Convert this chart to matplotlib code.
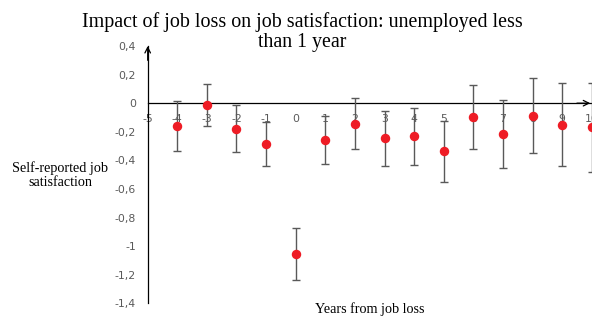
import matplotlib
matplotlib.use("Agg")
import matplotlib.pyplot as plt
import numpy as np

# values
years = [-4, -3, -2, -1, 0, 1, 2, 3, 4, 5, 6, 7, 8, 9, 10]
means = [-0.157, -0.014, -0.18, -0.287, -1.056, -0.257, -0.143, -0.247,
         -0.233, -0.338, -0.098, -0.215, -0.087, -0.152, -0.17]
errs = [0.175, 0.145, 0.165, 0.155, 0.18, 0.165, 0.18, 0.19,
        0.2, 0.21, 0.225, 0.24, 0.265, 0.29, 0.31]
xticks = list(range(-5, 11))
yticks = [0.4, 0.2, 0, -0.2, -0.4, -0.6, -0.8, -1, -1.2, -1.4]
ytick_labels = ["0,4", "0,2", "0", "-0,2", "-0,4", "-0,6", "-0,8", "-1", "-1,2", "-1,4"]

W, H = 592, 320
fig = plt.figure(figsize=(W / 100, H / 100), dpi=100)
ax = fig.add_axes([147.7 / W, 1 - 303.3 / H, 444 / W, 257.3 / H])
ax.patch.set_alpha(0)

ax.errorbar(years, means, yerr=errs, fmt="o", color="#ee1c25", ms=5.8,
            mec="#ee1c25", ecolor="#595959", elinewidth=1.0, capsize=3.2,
            capthick=1.0, zorder=3)

ax.set_xlim(-5, 10)
ax.set_ylim(-1.4, 0.4)
for s in ("top", "right"):
    ax.spines[s].set_visible(False)
ax.spines["bottom"].set_position(("data", 0))
ax.spines["left"].set_position(("data", -5))
for s in ("left", "bottom"):
    ax.spines[s].set_linewidth(0.9)
    ax.spines[s].set_color("black")

ax.set_xticks(xticks)
ax.set_xticklabels([str(t) for t in xticks])
ax.set_yticks(yticks)
ax.set_yticklabels(ytick_labels)
ax.tick_params(axis="both", length=0, labelsize=7.8, labelcolor="#595959")
ax.tick_params(axis="x", pad=7.5)
ax.tick_params(axis="y", pad=8.5)
for lab in ax.get_xticklabels() + ax.get_yticklabels():
    lab.set_fontfamily("DejaVu Sans")

# arrow heads on the axes
ax.annotate("", xy=(-5, 0.4), xytext=(-5, 0.3),
            arrowprops=dict(arrowstyle="->", color="black", lw=0.9,
                            shrinkA=0, shrinkB=0), annotation_clip=False)
ax.annotate("", xy=(9.95, 0), xytext=(9.5, 0),
            arrowprops=dict(arrowstyle="->", color="black", lw=0.9,
                            shrinkA=0, shrinkB=0), annotation_clip=False)

serif = "Liberation Serif"
fig.text(302 / W, 1 - 22 / H, "Impact of job loss on job satisfaction: unemployed less",
         ha="center", va="center", fontsize=14.4, family=serif)
fig.text(302 / W, 1 - 43 / H, "than 1 year",
         ha="center", va="center", fontsize=14.4, family=serif)
fig.text(60 / W, 1 - 175 / H, "Self-reported job\nsatisfaction",
         ha="center", va="center", fontsize=10.2, family=serif, linespacing=1.15)
fig.text(370 / W, 1 - 309 / H, "Years from job loss",
         ha="center", va="center", fontsize=10.2, family=serif)

fig.savefig("out.png", dpi=100)
